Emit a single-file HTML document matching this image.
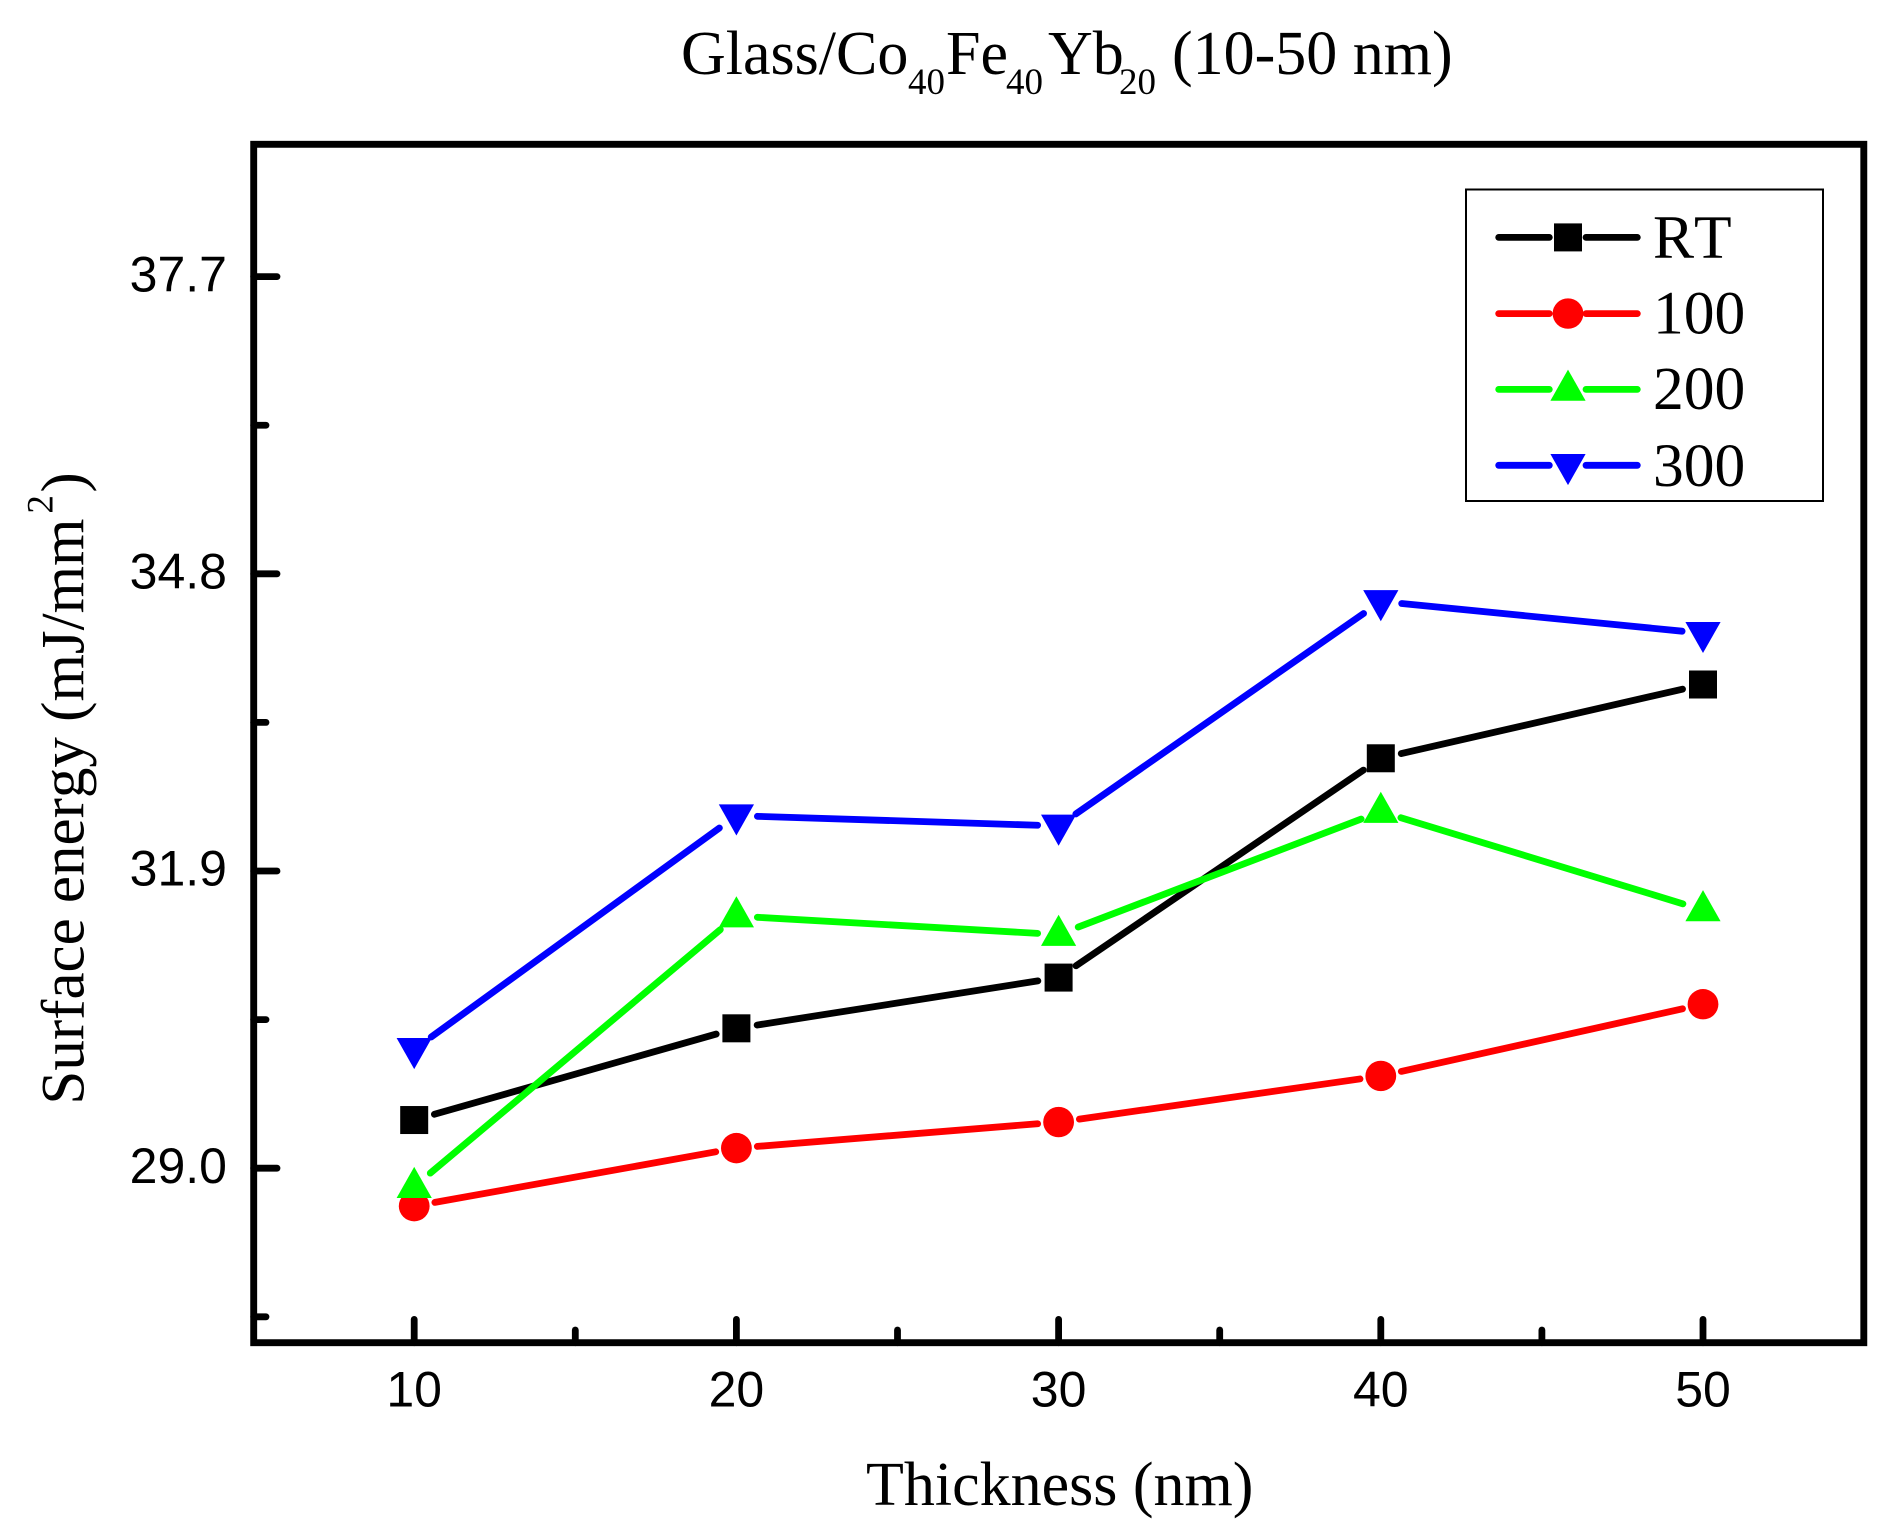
<!DOCTYPE html>
<html lang="en">
<head>
<meta charset="utf-8">
<title>Surface energy vs thickness</title>
<style>
html,body{margin:0;padding:0;background:#fff;}
svg{display:block;}
.serif{font-family:"Liberation Serif","Times New Roman",serif;fill:#000;font-kerning:none;}
.sans{font-family:"Liberation Sans",Arial,sans-serif;fill:#000;}
</style>
</head>
<body>
<svg id="chart" xmlns="http://www.w3.org/2000/svg" width="1902" height="1535" viewBox="0 0 1902 1535">
  <rect x="0" y="0" width="1902" height="1535" fill="#fff"/>
  <text class="serif" font-size="62" y="74"><tspan x="681">Glass/Co</tspan><tspan x="908" y="94" font-size="37">40</tspan><tspan x="946" y="74">Fe</tspan><tspan x="1006" y="94" font-size="37">40</tspan><tspan x="1048" y="74">Yb</tspan><tspan x="1119" y="94" font-size="37">20</tspan><tspan x="1172" y="74">(10-50 nm)</tspan></text>
  <text class="serif" font-size="62" x="866" y="1505">Thickness (nm)</text>
  <text class="serif" font-size="61" transform="translate(83.5 1104.6) rotate(-90)"><tspan x="0" y="0">Surface energy (mJ/mm</tspan><tspan x="591" y="-31" font-size="37">2</tspan><tspan x="612" y="0">)</tspan></text>
  <g id="plot"></g>
  <rect x="253.7" y="144.3" width="1610.1" height="1198.4" fill="none" stroke="#000" stroke-width="6.9"/>
  <g id="legend">
    <rect x="1466" y="189.5" width="357" height="311.5" fill="#fff" stroke="#000" stroke-width="2"/>
  </g>
</svg>
<script>
var categories = [10, 20, 30, 40, 50];
var seriesNames = ['RT', '100', '200', '300'];
var seriesRT = [29.47, 30.365, 30.86, 33.0, 33.72];
var series100 = [28.63, 29.196, 29.45, 29.90, 30.60];
var series200 = [28.82, 31.46, 31.28, 32.48, 31.52];
var series300 = [30.16, 32.44, 32.34, 34.53, 34.22];
var xTickValues = [10, 20, 30, 40, 50];
var xMinorTickValues = [15, 25, 35, 45];
var yTickLabels = ['29.0', '31.9', '34.8', '37.7'];
var yMinorTickValues = [27.55, 30.45, 33.35, 36.25];

var NS = 'http://www.w3.org/2000/svg';
var plot = document.getElementById('plot');
var legend = document.getElementById('legend');
var colors = ['#000000', '#ff0000', '#00ff00', '#0000ff'];
var shapes = ['square', 'circle', 'triangle-up', 'triangle-down'];
var slugs = ['rt', '100', '200', '300'];
var LW = 6.8;

function xScale(v) { return 414.2 + (v - 10) * 32.22; }
function yScale(v) { return 1168.2 - (v - 29) * 102.48; }

function make(tag, attrs, parent) {
  var el = document.createElementNS(NS, tag);
  for (var k in attrs) { el.setAttribute(k, attrs[k]); }
  parent.appendChild(el);
  return el;
}

function drawMarker(shape, cx, cy, color, parent) {
  if (shape === 'square') {
    return make('rect', { x: cx - 14, y: cy - 14, width: 28, height: 28, fill: color }, parent);
  }
  if (shape === 'circle') {
    return make('ellipse', { cx: cx, cy: cy, rx: 15.4, ry: 15.2, fill: color }, parent);
  }
  if (shape === 'triangle-up') {
    return make('polygon', { points: (cx - 17.6) + ',' + (cy + 11.3) + ' ' + (cx + 17.6) + ',' + (cy + 11.3) + ' ' + cx + ',' + (cy - 19.8), fill: color }, parent);
  }
  return make('polygon', { points: (cx - 17.6) + ',' + (cy - 11.3) + ' ' + (cx + 17.6) + ',' + (cy - 11.3) + ' ' + cx + ',' + (cy + 19.8), fill: color }, parent);
}

/* Y axis ticks */
yTickLabels.forEach(function (label) {
  var y = yScale(parseFloat(label));
  var tick = make('line', { x1: 253.7, x2: 277, y1: y, y2: y, stroke: '#000', 'stroke-width': LW, 'stroke-linecap': 'round' }, plot);
  
  
  var text = make('text', { x: 227, y: y + 14.7, 'text-anchor': 'end', 'font-size': 50, 'class': 'sans' }, plot);
  text.textContent = label;
  
  
});
yMinorTickValues.forEach(function (v) {
  var y = yScale(v);
  var tick = make('line', { x1: 253.7, x2: 266, y1: y, y2: y, stroke: '#000', 'stroke-width': LW, 'stroke-linecap': 'round' }, plot);
  
  
});

/* X axis ticks */
xTickValues.forEach(function (v) {
  var x = xScale(v);
  var tick = make('line', { x1: x, x2: x, y1: 1342.7, y2: 1319.4, stroke: '#000', 'stroke-width': LW, 'stroke-linecap': 'round' }, plot);
  
  
  var text = make('text', { x: x, y: 1406.7, 'text-anchor': 'middle', 'font-size': 50, 'class': 'sans' }, plot);
  text.textContent = String(v);
  
  
});
xMinorTickValues.forEach(function (v) {
  var x = xScale(v);
  var tick = make('line', { x1: x, x2: x, y1: 1342.7, y2: 1330, stroke: '#000', 'stroke-width': LW, 'stroke-linecap': 'round' }, plot);
  
  
});

/* Series */
var allSeries = [seriesRT, series100, series200, series300];
var GAP = 21;
allSeries.forEach(function (values, s) {
  var group = make('g', {}, plot);
  
  
  for (var i = 0; i < values.length - 1; i++) {
    var x1 = xScale(categories[i]), y1 = yScale(values[i]);
    var x2 = xScale(categories[i + 1]), y2 = yScale(values[i + 1]);
    var len = Math.sqrt((x2 - x1) * (x2 - x1) + (y2 - y1) * (y2 - y1));
    var ux = (x2 - x1) / len, uy = (y2 - y1) / len;
    var seg = make('line', {
      x1: x1 + ux * GAP, y1: y1 + uy * GAP, x2: x2 - ux * GAP, y2: y2 - uy * GAP,
      stroke: colors[s], 'stroke-width': LW, 'stroke-linecap': 'round'
    }, group);
    
    
  }
  values.forEach(function (v, i) {
    var m = drawMarker(shapes[s], xScale(categories[i]), yScale(v), colors[s], group);
    
    
  });
});

/* Legend */
var legendLineY = [237.4, 313.6, 389.4, 465.3];
var legendTextY = [257.5, 333.3, 409, 486];
seriesNames.forEach(function (name, s) {
  var entry = make('g', {}, legend);
  
  
  var y = legendLineY[s];
  var left = make('line', { x1: 1498.7, x2: 1549.3, y1: y, y2: y, stroke: colors[s], 'stroke-width': LW, 'stroke-linecap': 'round' }, entry);
  
  
  var right = make('line', { x1: 1586, x2: 1637.3, y1: y, y2: y, stroke: colors[s], 'stroke-width': LW, 'stroke-linecap': 'round' }, entry);
  
  
  var marker = drawMarker(shapes[s], 1568, y, colors[s], entry);
  
  
  var label = make('text', { x: 1653, y: legendTextY[s], 'font-size': 61.5, 'class': 'serif' }, entry);
  label.textContent = name;
  
  
});
</script>
</body>
</html>
